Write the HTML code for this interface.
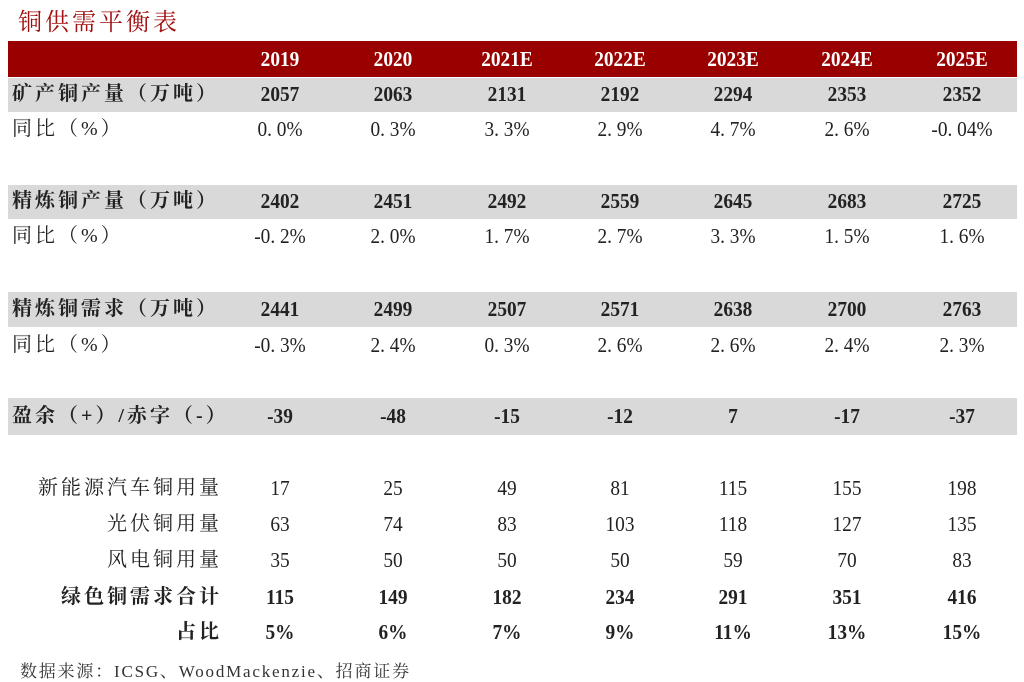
<!DOCTYPE html>
<html><head><meta charset="utf-8"><style>
body{margin:0;width:1024px;height:681px;background:#fff;position:relative;overflow:hidden;font-family:"Liberation Serif","Noto Serif CJK SC",serif;color:#222}
.a{position:absolute}
.bar{position:absolute;left:8px;width:1009px}
.r{position:absolute;left:0;width:1024px;height:36px;line-height:36px;font-size:21px}
.r span{position:absolute;top:0;text-align:center;width:110px;display:inline-block}
.r span.n{transform:scaleX(0.92)}
.l{left:12px;text-align:left!important;width:auto!important;white-space:nowrap;letter-spacing:3px;font-size:20px}
.rl{right:802px;text-align:right!important;width:auto!important;white-space:nowrap;letter-spacing:3px;font-size:20px}
.b{font-weight:bold}
</style></head><body>
<div class="a" style="left:18px;top:2px;font-size:24px;color:#a01010;letter-spacing:3px">铜供需平衡表</div>
<div class="bar" style="top:41px;height:36px;background:#990000"></div>
<div class="bar" style="top:78px;height:34px;background:#d9d9d9"></div>
<div class="bar" style="top:185px;height:34px;background:#d9d9d9"></div>
<div class="bar" style="top:292px;height:35px;background:#d9d9d9"></div>
<div class="bar" style="top:398px;height:37px;background:#d9d9d9"></div>
<div id="c"></div>
<script>
var xs=[280,393,507,620,733,847,962];
var rows=[
[41,"",["2019","2020","2021E","2022E","2023E","2024E","2025E"],"hdr"],
[76,"矿产铜产量（万吨）",["2057","2063","2131","2192","2294","2353","2352"],"b"],
[111,"同比（%）",["0. 0%","0. 3%","3. 3%","2. 9%","4. 7%","2. 6%","-0. 04%"],""],
[183,"精炼铜产量（万吨）",["2402","2451","2492","2559","2645","2683","2725"],"b"],
[218,"同比（%）",["-0. 2%","2. 0%","1. 7%","2. 7%","3. 3%","1. 5%","1. 6%"],""],
[291,"精炼铜需求（万吨）",["2441","2499","2507","2571","2638","2700","2763"],"b"],
[327,"同比（%）",["-0. 3%","2. 4%","0. 3%","2. 6%","2. 6%","2. 4%","2. 3%"],""],
[398,"盈余（+）/赤字（-）",["-39","-48","-15","-12","7","-17","-37"],"b"],
[470,"新能源汽车铜用量",["17","25","49","81","115","155","198"],"R"],
[506,"光伏铜用量",["63","74","83","103","118","127","135"],"R"],
[542,"风电铜用量",["35","50","50","50","59","70","83"],"R"],
[579,"绿色铜需求合计",["115","149","182","234","291","351","416"],"Rb"],
[614,"占比",["5%","6%","7%","9%","11%","13%","15%"],"Rb"]];
var h="";
rows.forEach(function(r){
 var cls=(r[3].indexOf("b")>=0||r[3]=="hdr")?" b":"";
 var col=r[3]=="hdr"?"color:#fff;":"";
 h+='<div class="r'+cls+'" style="top:'+r[0]+'px;'+col+'">';
 if(r[1]){ if(r[3][0]=="R") h+='<span class="rl">'+r[1]+'</span>'; else h+='<span class="l">'+r[1]+'</span>';}
 r[2].forEach(function(v,i){h+='<span class="n" style="left:'+(xs[i]-55)+'px">'+v+'</span>';});
 h+='</div>';});
document.getElementById("c").innerHTML=h;
</script>
<div class="a" style="left:20px;top:657px;font-size:17px;color:#333;letter-spacing:1.8px">数据来源：ICSG、WoodMackenzie、招商证券</div>
</body></html>
